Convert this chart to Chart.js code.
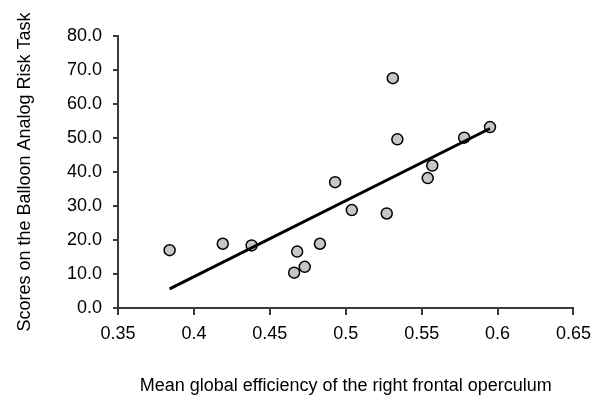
<!DOCTYPE html>
<html>
<head>
<meta charset="utf-8">
<script src="https://cdn.jsdelivr.net/npm/chart.js@4"></script>
<style>
    body { margin: 0; background: #fff; }
    #wrap { width: 599px; height: 398px; }
</style>
</head>
<body>
<div id="wrap"><canvas id="effChart" width="599" height="398"></canvas></div>
<script>
// ข้อมูลรายบุคคล (global efficiency, คะแนน BART)
const efficiency = [0.384, 0.419, 0.438, 0.466, 0.468, 0.473, 0.483, 0.493, 0.504, 0.527, 0.531, 0.534, 0.554, 0.557, 0.578, 0.595];
const bartScores = [17.0, 18.9, 18.4, 10.4, 16.6, 12.1, 18.9, 37.0, 28.8, 27.8, 67.6, 49.6, 38.2, 41.9, 50.1, 53.2];

// เส้นแนวโน้ม (จุดเริ่ม - จุดจบ)
const fitX = [0.384, 0.595];
const fitY = [5.6, 52.8];

// ค่าบนแกน
const xTicks = [0.35, 0.4, 0.45, 0.5, 0.55, 0.6, 0.65];
const yTicks = [0, 10, 20, 30, 40, 50, 60, 70, 80];

const axisColor = '#3a3a3a';
const textFont = { family: '"Liberation Sans", Arial, sans-serif', size: 18 };

let chartInstance = null;

document.addEventListener('DOMContentLoaded', () => {
    renderChart();
});

function renderChart() {
    const ctx = document.getElementById('effChart').getContext('2d');

    // 1. จับคู่ x,y ให้เป็นจุด
    const points = efficiency.map((x, i) => ({ x: x, y: bartScores[i] }));
    const fitLine = fitX.map((x, i) => ({ x: x, y: fitY[i] }));

    if (chartInstance) chartInstance.destroy();

    chartInstance = new Chart(ctx, {
        type: 'scatter',
        data: {
            datasets: [
                {
                    // เส้น regression วาดทับจุด
                    type: 'line',
                    data: fitLine,
                    borderColor: '#000',
                    borderWidth: 3,
                    pointRadius: 0,
                    fill: false,
                    order: 0
                },
                {
                    data: points,
                    backgroundColor: '#c6c6c6',
                    borderColor: '#000',
                    borderWidth: 1.5,
                    pointRadius: 5.5,
                    pointHoverRadius: 5.5,
                    order: 1
                }
            ]
        },
        options: {
            responsive: false,
            animation: false,
            devicePixelRatio: 1,
            layout: { padding: { top: 36, right: 25, bottom: 0, left: 0 } },
            plugins: {
                legend: { display: false },
                tooltip: { enabled: false }
            },
            scales: {
                x: {
                    type: 'linear',
                    min: 0.35,
                    max: 0.65,
                    afterBuildTicks: (scale) => { scale.ticks = xTicks.map(v => ({ value: v })); },
                    afterFit: (scale) => { scale.height = 90; },
                    grid: { drawOnChartArea: false, color: axisColor, lineWidth: 2, tickLength: 7 },
                    border: { color: axisColor, width: 2 },
                    ticks: {
                        color: '#000',
                        font: textFont,
                        padding: 8,
                        maxRotation: 0,
                        callback: (v) => String(Number(v.toFixed(2)))
                    },
                    title: {
                        display: true,
                        text: 'Mean global efficiency of the right frontal operculum',
                        color: '#000',
                        font: textFont,
                        padding: { top: 0, bottom: 1 }
                    }
                },
                y: {
                    min: 0,
                    max: 80,
                    afterBuildTicks: (scale) => { scale.ticks = yTicks.map(v => ({ value: v })); },
                    afterFit: (scale) => { scale.width = 118; },
                    grid: { drawOnChartArea: false, color: axisColor, lineWidth: 2, tickLength: 5 },
                    border: { color: axisColor, width: 2 },
                    ticks: {
                        color: '#000',
                        font: textFont,
                        padding: 11,
                        callback: (v) => v.toFixed(1)
                    },
                    title: {
                        display: true,
                        text: 'Scores on the Balloon Analog Risk Task',
                        color: '#000',
                        font: textFont,
                        padding: { top: 14, bottom: 0 }
                    }
                }
            }
        }
    });
}
</script>
</body>
</html>
